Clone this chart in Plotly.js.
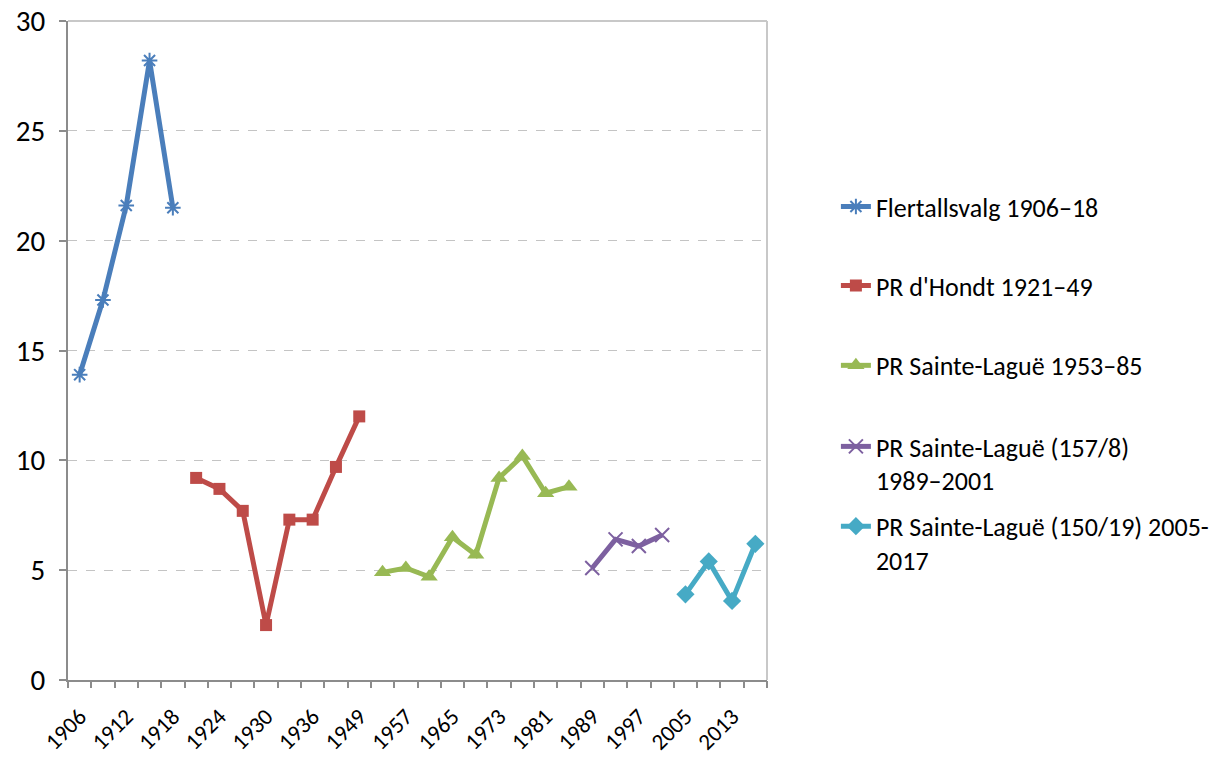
<!DOCTYPE html>
<html>
<head>
<meta charset="utf-8">
<script src="https://cdn.plot.ly/plotly-3.0.1.min.js"></script>
<style>html,body{margin:0;padding:0;background:#fff;}#chart{width:1225px;height:758px;}</style>
</head>
<body>
<div id="chart"></div>
<script>
const years = ["1906","1909","1912","1915","1918","1921","1924","1927","1930","1933","1936","1945","1949","1953","1957","1961","1965","1969","1973","1977","1981","1985","1989","1993","1997","2001","2005","2009","2013","2017"];
const tickYears = ["1906","1912","1918","1924","1930","1936","1949","1957","1965","1973","1981","1989","1997","2005","2013"];

const flertallYears = ["1906","1909","1912","1915","1918"];
const flertallValues = [13.9, 17.3, 21.6, 28.2, 21.5];

const dhondtYears = ["1921","1924","1927","1930","1933","1936","1945","1949"];
const dhondtValues = [9.2, 8.7, 7.7, 2.5, 7.3, 7.3, 9.7, 12.0];

const slYears = ["1953","1957","1961","1965","1969","1973","1977","1981","1985"];
const slValues = [4.9, 5.1, 4.7, 6.5, 5.7, 9.2, 10.2, 8.5, 8.8];

const sl157Years = ["1989","1993","1997","2001"];
const sl157Values = [5.1, 6.4, 6.1, 6.6];

const sl150Years = ["2005","2009","2013","2017"];
const sl150Values = [3.9, 5.4, 3.6, 6.2];

const seriesNames = [
  "Flertallsvalg 1906–18",
  "PR d'Hondt 1921–49",
  "PR Sainte-Laguë 1953–85",
  "PR Sainte-Laguë (157/8)<br>1989–2001",
  "PR Sainte-Laguë (150/19) 2005-<br>2017"
];

const FONT = "Carlito, Calibri, Lato, 'Open Sans', sans-serif";

const traces = [
  {x: flertallYears, y: flertallValues, name: seriesNames[0], legend: "legend",
   mode: "lines+markers", line: {color: "#4A7EBB", width: 5},
   marker: {symbol: "asterisk-open", size: 13, line: {color: "#4A7EBB", width: 2}}},
  {x: dhondtYears, y: dhondtValues, name: seriesNames[1], legend: "legend2",
   mode: "lines+markers", line: {color: "#BE4B48", width: 5},
   marker: {symbol: "square", size: 12, color: "#BE4B48"}},
  {x: slYears, y: slValues, name: seriesNames[2], legend: "legend3",
   mode: "lines+markers", line: {color: "#98B954", width: 5},
   marker: {symbol: "triangle-up", size: 15, color: "#98B954"}},
  {x: sl157Years, y: sl157Values, name: seriesNames[3], legend: "legend4",
   mode: "lines+markers", line: {color: "#7D60A0", width: 5},
   marker: {symbol: "x-thin-open", size: 14, line: {color: "#7D60A0", width: 2}}},
  {x: sl150Years, y: sl150Values, name: seriesNames[4], legend: "legend5",
   mode: "lines+markers", line: {color: "#46AAC5", width: 5},
   marker: {symbol: "diamond", size: 14, color: "#46AAC5"}}
];

function leg(y) {
  return {x: 1.097, xanchor: "left", y: y, yanchor: "top", valign: "top",
          font: {family: FONT, size: 26, color: "#000"}, bgcolor: "rgba(0,0,0,0)",
          itemwidth: 30, tracegroupgap: 0};
}

const layout = {
  width: 1225, height: 758,
  margin: {l: 68, r: 457, t: 21, b: 78, pad: 0},
  paper_bgcolor: "#fff", plot_bgcolor: "#fff",
  font: {family: FONT, size: 20, color: "#000"},
  showlegend: true,
  xaxis: {
    type: "category", categoryorder: "array", categoryarray: years,
    range: [-0.5, years.length - 0.5],
    tickmode: "array", tickvals: tickYears, ticktext: tickYears,
    tickangle: -45, ticks: "", showgrid: false, zeroline: false,
    showline: true, linecolor: "#8C8C8C", linewidth: 2,
    ticklabelstandoff: 12, automargin: false,
    tickfont: {family: FONT, size: 23, color: "#000"}
  },
  xaxis2: {
    overlaying: "x", type: "linear", range: [-0.5, years.length - 0.5],
    tickmode: "linear", tick0: -0.5, dtick: 1, ticks: "outside", ticklen: 7,
    tickwidth: 2, tickcolor: "#8C8C8C", showticklabels: false,
    showgrid: false, zeroline: false, showline: false, fixedrange: true
  },
  yaxis: {
    range: [0, 30], dtick: 5, tick0: 0,
    ticks: "outside", ticklen: 7, tickwidth: 2, tickcolor: "#8C8C8C",
    showline: true, linecolor: "#8C8C8C", linewidth: 2,
    showgrid: true, gridcolor: "#C4C4C4", griddash: "dash", gridwidth: 1,
    zeroline: false, ticklabelstandoff: 8, automargin: false,
    tickfont: {family: FONT, size: 29, color: "#000"}
  },
  shapes: [
    {type: "line", xref: "paper", yref: "paper", x0: 0, x1: 1, y0: 1, y1: 1, line: {color: "#C8C8C8", width: 2}},
    {type: "line", xref: "paper", yref: "paper", x0: 1, x1: 1, y0: 0, y1: 1, line: {color: "#C8C8C8", width: 2}}
  ],
  legend: leg(0.754),
  legend2: leg(0.634),
  legend3: leg(0.513),
  legend4: leg(0.390),
  legend5: leg(0.269)
};

traces.push({x: [], y: [], xaxis: "x2", yaxis: "y", showlegend: false, hoverinfo: "skip"});

Plotly.newPlot("chart", traces, layout, {displayModeBar: false, staticPlot: true});
</script>
</body>
</html>
